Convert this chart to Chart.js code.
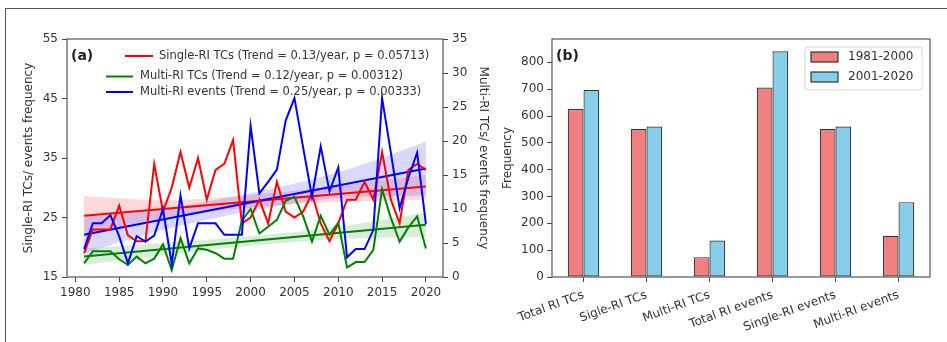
<!DOCTYPE html>
<html><head><meta charset="utf-8">
<script src="https://cdn.jsdelivr.net/npm/chart.js@4.4.1/dist/chart.umd.min.js"></script>
<style>
html,body{margin:0;padding:0;background:#fff;width:947px;height:342px;overflow:hidden;}
#frame{position:absolute;left:5px;top:8px;width:1000px;height:400px;border-left:1px solid #555;border-top:1px solid #555;}
#ca{position:absolute;left:0;top:0;}
#cb{position:absolute;left:495px;top:0;}
</style></head><body>
<div id="frame"></div>
<canvas id="ca" width="500" height="342"></canvas>
<canvas id="cb" width="452" height="342"></canvas>
<script>
// ---------- Panel (a) data ----------
const years = [1981,1982,1983,1984,1985,1986,1987,1988,1989,1990,
               1991,1992,1993,1994,1995,1996,1997,1998,1999,2000,
               2001,2002,2003,2004,2005,2006,2007,2008,2009,2010,
               2011,2012,2013,2014,2015,2016,2017,2018,2019,2020];
const singleRiTCs = [19,23,23,23,27,22,21,21,34,26,30,36,30,35,28,33,34,38,24,25,
                     28,24,31,26,25,26,29,24,21,24,28,28,31,28,36,28,24,33,34,33];
const multiRiTCs = [2.0,3.8,3.8,3.8,2.6,1.8,3.0,2.0,2.7,4.8,1.0,5.7,2.0,4.2,4.0,3.5,2.7,2.7,8.3,10.0,
                    6.4,7.4,8.4,11.2,11.8,8.9,5.2,9.0,6.2,8.0,1.4,2.2,2.2,4.0,12.9,8.7,5.2,7.3,8.9,4.2];
const multiRiEvents = [4.1,7.9,7.9,9.1,6.0,2.0,6.0,5.2,6.1,10.0,1.9,12.0,4.2,7.9,7.9,7.9,6.2,6.2,6.2,22.2,
                       12.3,14.0,15.8,23.0,26.3,19.0,11.8,19.2,12.6,16.1,2.9,4.1,4.1,6.9,26.3,18.3,10.1,14.6,18.3,7.8];
// trend lines (end points)
const trendYears = [1981, 2020];
const singleTrend = [25.3, 30.2];
const multiTCsTrend = [3.0, 7.7];
const multiEvTrend = [6.2, 15.95];
// confidence bands
const bandYears = [1981, 1990, 2000, 2010, 2020];
const singleLo = [22.0, 24.9, 26.7, 27.6, 28.0];
const singleHi = [28.6, 27.9, 28.8, 30.3, 32.2];
const multiTCsLo = [1.8, 3.2, 4.6, 5.6, 5.9];
const multiTCsHi = [4.2, 5.0, 6.0, 7.4, 9.5];
const multiEvLo = [3.5, 6.9, 9.7, 11.6, 12.0];
const multiEvHi = [8.8, 10.0, 12.3, 15.4, 19.9];
const xTicksA = [1980,1985,1990,1995,2000,2005,2010,2015,2020];
const yLeftTicks = [15,25,35,45,55];
const yRightTicks = [0,5,10,15,20,25,30,35];
const legendA = ["Single-RI TCs (Trend = 0.13/year, p = 0.05713)",
                 "Multi-RI TCs (Trend = 0.12/year, p = 0.00312)",
                 "Multi-RI events (Trend = 0.25/year, p = 0.00333)"];

// ---------- Panel (b) data ----------
const categories = ["Total RI TCs","Sigle-RI TCs","Multi-RI TCs","Total RI events","Single-RI events","Multi-RI events"];
const period1 = [626, 552, 74, 706, 552, 154];
const period2 = [697, 561, 136, 841, 561, 279];
const periodLabels = ["1981-2000", "2001-2020"];
const yTicksB = [0,100,200,300,400,500,600,700,800];

Chart.defaults.font.family = "'DejaVu Sans', sans-serif";
Chart.defaults.color = '#333';

const RED = '#ff0000', GREEN = '#008000', BLUE = '#0000ff';
const pts = (xs, ys) => xs.map((x, i) => ({x: x, y: ys[i]}));

const framePlugin = {
  id: 'frameBox',
  afterDatasetsDraw(chart) {
    const {ctx, chartArea: a} = chart;
    ctx.save();
    ctx.strokeStyle = '#555';
    ctx.lineWidth = 1.2;
    ctx.strokeRect(a.left, a.top, a.right - a.left, a.bottom - a.top);
    ctx.restore();
  }
};

const lineDs = (data, color, axis) => ({
  data: data, yAxisID: axis, borderColor: color, borderWidth: 2,
  pointRadius: 0, fill: false, tension: 0
});
const bandLo = (data, axis) => ({
  data: data, yAxisID: axis, borderWidth: 0, borderColor: 'rgba(0,0,0,0)',
  pointRadius: 0, fill: false, tension: 0.3
});
const bandHi = (data, axis, rgba) => ({
  data: data, yAxisID: axis, borderWidth: 0, borderColor: 'rgba(0,0,0,0)',
  pointRadius: 0, fill: '-1', backgroundColor: rgba, tension: 0.3
});

const legendAPlugin = {
  id: 'legendA',
  afterDraw(chart) {
    const ctx = chart.ctx;
    ctx.save();
    ctx.font = "bold 14px 'DejaVu Sans'";
    ctx.fillStyle = '#222';
    ctx.textBaseline = 'middle';
    ctx.textAlign = 'left';
    ctx.fillText('(a)', 71, 56);
    const rows = [
      {x0: 125, x1: 153, tx: 159, y: 56, c: RED, t: legendA[0]},
      {x0: 106, x1: 133, tx: 140, y: 76.5, c: GREEN, t: legendA[1]},
      {x0: 106, x1: 133, tx: 140, y: 92, c: BLUE, t: legendA[2]}
    ];
    ctx.font = "11.5px 'DejaVu Sans'";
    rows.forEach(r => {
      ctx.strokeStyle = r.c; ctx.lineWidth = 2;
      ctx.beginPath(); ctx.moveTo(r.x0, r.y); ctx.lineTo(r.x1, r.y); ctx.stroke();
      ctx.fillStyle = '#333';
      ctx.fillText(r.t, r.tx, r.y);
    });
    ctx.restore();
  }
};

const tickFont = {size: 12};
const gridOpts = {drawOnChartArea: false, drawTicks: true, tickLength: 5, tickColor: '#444', lineWidth: 1};

new Chart(document.getElementById('ca'), {
  type: 'line',
  data: {
    datasets: [
      lineDs(pts(years, multiRiEvents), BLUE, 'yR'),
      lineDs(pts(years, multiRiTCs), GREEN, 'yR'),
      lineDs(pts(years, singleRiTCs), RED, 'yL'),
      lineDs(pts(trendYears, multiEvTrend), BLUE, 'yR'),
      lineDs(pts(trendYears, multiTCsTrend), GREEN, 'yR'),
      lineDs(pts(trendYears, singleTrend), RED, 'yL'),
      bandLo(pts(bandYears, multiEvLo), 'yR'),
      bandHi(pts(bandYears, multiEvHi), 'yR', 'rgba(0,0,255,0.15)'),
      bandLo(pts(bandYears, multiTCsLo), 'yR'),
      bandHi(pts(bandYears, multiTCsHi), 'yR', 'rgba(0,128,0,0.15)'),
      bandLo(pts(bandYears, singleLo), 'yL'),
      bandHi(pts(bandYears, singleHi), 'yL', 'rgba(255,0,0,0.15)')
    ]
  },
  options: {
    responsive: false, animation: false,
    layout: {padding: {top: 39, left: 0, right: 0, bottom: 0}},
    plugins: {legend: {display: false}, tooltip: {enabled: false}},
    scales: {
      x: {
        type: 'linear', min: 1979.05, max: 2021.95,
        afterBuildTicks: s => { s.ticks = xTicksA.map(v => ({value: v})); },
        afterFit: s => { s.height = 65; },
        ticks: {font: tickFont, padding: 4, callback: v => String(v), maxRotation: 0, autoSkip: false},
        grid: gridOpts, border: {display: false}
      },
      yL: {
        type: 'linear', position: 'left', min: 15, max: 55,
        afterBuildTicks: s => { s.ticks = yLeftTicks.map(v => ({value: v})); },
        afterFit: s => { s.width = 67; },
        ticks: {font: tickFont, padding: 4, callback: v => String(v)},
        grid: gridOpts, border: {display: false},
        title: {display: true, text: 'Single-RI TCs/ events frequency', font: {size: 12}, padding: {top: 22, bottom: 0}}
      },
      yR: {
        type: 'linear', position: 'right', min: 0, max: 35,
        afterBuildTicks: s => { s.ticks = yRightTicks.map(v => ({value: v})); },
        afterFit: s => { s.width = 57; },
        ticks: {font: tickFont, padding: 4, callback: v => String(v)},
        grid: gridOpts, border: {display: false},
        title: {display: true, text: 'Multi-RI TCs/ events frequency', font: {size: 12}, padding: {top: 10, bottom: 0}}
      }
    }
  },
  plugins: [framePlugin, legendAPlugin]
});

const legendBPlugin = {
  id: 'legendB',
  afterDraw(chart) {
    const ctx = chart.ctx;
    ctx.save();
    ctx.font = "bold 14px 'DejaVu Sans'";
    ctx.fillStyle = '#222';
    ctx.textBaseline = 'middle';
    ctx.textAlign = 'left';
    ctx.fillText('(b)', 61, 56);
    // legend box
    const bx = 310, by = 47, bw = 117, bh = 43, r = 3;
    ctx.beginPath();
    ctx.moveTo(bx + r, by); ctx.lineTo(bx + bw - r, by); ctx.quadraticCurveTo(bx + bw, by, bx + bw, by + r);
    ctx.lineTo(bx + bw, by + bh - r); ctx.quadraticCurveTo(bx + bw, by + bh, bx + bw - r, by + bh);
    ctx.lineTo(bx + r, by + bh); ctx.quadraticCurveTo(bx, by + bh, bx, by + bh - r);
    ctx.lineTo(bx, by + r); ctx.quadraticCurveTo(bx, by, bx + r, by);
    ctx.closePath();
    ctx.fillStyle = 'rgba(255,255,255,0.8)'; ctx.fill();
    ctx.strokeStyle = '#d5d5d5'; ctx.lineWidth = 1; ctx.stroke();
    const cols = ['#F08080', '#87CEEB'];
    ctx.font = "12px 'DejaVu Sans'";
    [57, 77].forEach((y, i) => {
      ctx.fillStyle = cols[i];
      ctx.fillRect(316, y - 5, 27, 10);
      ctx.strokeStyle = '#333'; ctx.lineWidth = 1.2;
      ctx.strokeRect(316, y - 5, 27, 10);
      ctx.fillStyle = '#333';
      ctx.fillText(periodLabels[i], 353, y);
    });
    ctx.restore();
  }
};

new Chart(document.getElementById('cb'), {
  type: 'bar',
  data: {
    labels: categories,
    datasets: [
      {label: periodLabels[0], data: period1, backgroundColor: '#F08080', borderColor: '#333', borderWidth: 1.2,
       categoryPercentage: 0.5, barPercentage: 1.0, borderSkipped: false},
      {label: periodLabels[1], data: period2, backgroundColor: '#87CEEB', borderColor: '#333', borderWidth: 1.2,
       categoryPercentage: 0.5, barPercentage: 1.0, borderSkipped: false}
    ]
  },
  options: {
    responsive: false, animation: false,
    layout: {padding: {top: 39, left: 0, right: 17, bottom: 0}},
    plugins: {legend: {display: false}, tooltip: {enabled: false}},
    scales: {
      x: {
        type: 'category', offset: true,
        afterFit: s => { s.height = 65; },
        ticks: {font: tickFont, padding: 6, minRotation: 20, maxRotation: 20, autoSkip: false},
        grid: Object.assign({}, gridOpts, {offset: false}), border: {display: false}
      },
      y: {
        type: 'linear', min: 0, max: 887,
        afterBuildTicks: s => { s.ticks = yTicksB.map(v => ({value: v})); },
        afterFit: s => { s.width = 57; },
        ticks: {font: tickFont, padding: 3, callback: v => String(v)},
        grid: gridOpts, border: {display: false},
        title: {display: true, text: 'Frequency', font: {size: 12}, padding: {top: 6, bottom: 0}}
      }
    }
  },
  plugins: [framePlugin, legendBPlugin]
});
</script></body></html>
